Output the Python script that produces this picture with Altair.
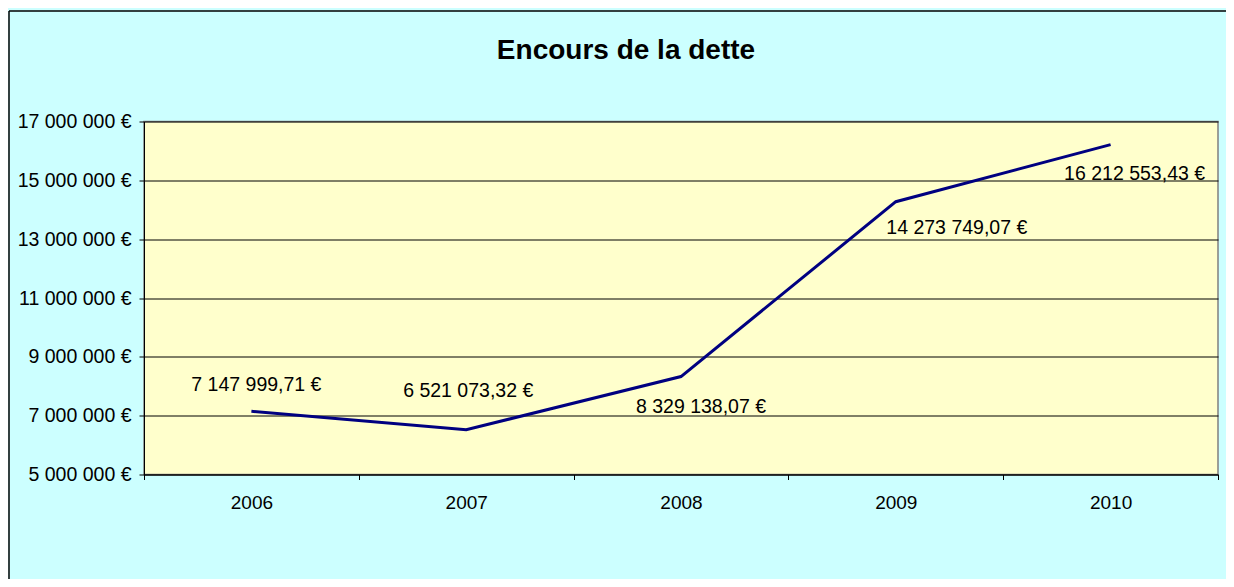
import altair as alt
import pandas as pd

# ---- data ----
years = ["2006", "2007", "2008", "2009", "2010"]
debt = [7147999.71, 6521073.32, 8329138.07, 14273749.07, 16212553.43]
y_ticks = [5000000, 7000000, 9000000, 11000000, 13000000, 15000000, 17000000]
title_text = "Encours de la dette"

df = pd.DataFrame({"year": years, "debt": debt})

# label placement (pixel offsets from each point, as in the original chart)
label_offsets = {"2006": (5, -26), "2007": (2, -39), "2008": (20, 30),
                 "2009": (61, 26), "2010": (24, 29)}

FONT = "Liberation Sans"
W, H = 1074, 353

x_enc = alt.X(
    "year:O",
    sort=years,
    scale=alt.Scale(type="band", paddingInner=0, paddingOuter=0),
    axis=alt.Axis(
        title=None, labelAngle=0, tickBand="extent", tickSize=5,
        tickColor="black", domainColor="black", labelColor="black",
        labelFont=FONT, labelFontSize=19, labelPadding=14, grid=False,
    ),
)
y_enc = alt.Y(
    "debt:Q",
    scale=alt.Scale(domain=[5000000, 17000000], nice=False, zero=False),
    axis=alt.Axis(
        title=None, values=y_ticks, format="$,.0f", grid=True,
        gridColor="black", gridWidth=1, tickSize=5, tickColor="black",
        domainColor="black", labelColor="black", labelFont=FONT,
        labelFontSize=19.5, labelPadding=8,
    ),
)

base = alt.Chart(df)

line = base.mark_line(color="#000080", strokeWidth=3).encode(x=x_enc, y=y_enc)

labels = []
for yr in years:
    dx, dy = label_offsets[yr]
    labels.append(
        base.transform_filter(alt.datum.year == yr)
        .mark_text(font=FONT, fontSize=19.5, color="black", dx=dx, dy=dy,
                   baseline="middle", align="center")
        .encode(x=x_enc, y=y_enc, text=alt.Text("debt:Q", format="$,.2f"))
    )

one = pd.DataFrame({"k": [0]})

title = alt.Chart(one).mark_text(
    font=FONT, fontSize=28, fontWeight="bold", color="black",
    align="center", baseline="alphabetic",
).encode(x=alt.value(W / 2 - 55), y=alt.value(-63), text=alt.value(title_text))

frame_top = alt.Chart(one).mark_rule(color="black", strokeWidth=1.5).encode(
    x=alt.value(-135), x2=alt.value(W + 8), y=alt.value(-110.5)
)
frame_left = alt.Chart(one).mark_rule(color="black", strokeWidth=1.5).encode(
    x=alt.value(-135), y=alt.value(-110.5), y2=alt.value(H + 110)
)

chart = alt.layer(frame_top, frame_left, title, line, *labels).properties(
    width=W,
    height=H,
    padding={"left": 136, "top": 113.5, "right": 8, "bottom": 104.5},
    autosize=alt.AutoSizeParams(type="none"),
).configure(
    background="#CCFFFF",
    locale={"number": {"decimal": ",", "thousands": "\u00a0", "grouping": [3],
                       "currency": ["", "\u00a0€"]}},
).configure_view(
    fill="#FFFFCC", stroke="#808080", strokeWidth=1.5
)

chart.save("out.html", embed_options={"renderer": "svg", "actions": False})
